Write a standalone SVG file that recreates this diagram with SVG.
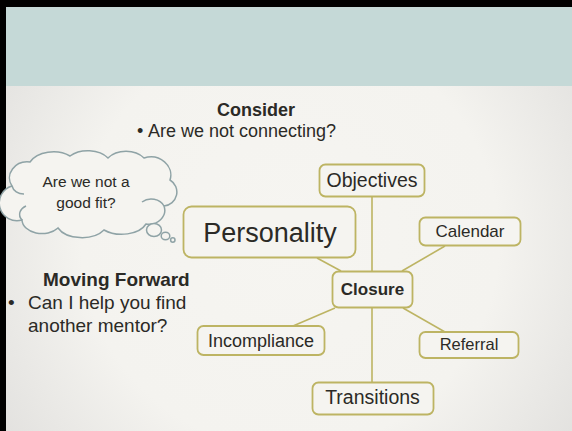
<svg xmlns="http://www.w3.org/2000/svg" width="572" height="431" viewBox="0 0 572 431">
<defs>
<radialGradient id="bg" cx="290" cy="240" r="380" gradientUnits="userSpaceOnUse">
<stop offset="0" stop-color="#f6f5f1"/>
<stop offset="0.55" stop-color="#f4f3ef"/>
<stop offset="1" stop-color="#dedddb"/>
</radialGradient>
<style>
.t{font-family:"Liberation Sans",Arial,sans-serif;fill:#2b2a26}
.b{font-weight:bold}
.node rect{fill:#f5f4f0;stroke:#bdb463;stroke-width:1.8}
.conn line{stroke:#bdb463;stroke-width:1.6}
.cloud{fill:#f5f4f0;stroke:#8fa3a6;stroke-width:1.5}
</style>
</defs>
<rect x="0" y="0" width="572" height="431" fill="#000"/>
<rect x="6" y="7" width="566" height="424" fill="url(#bg)"/>
<rect x="6" y="7" width="566" height="79" fill="#c5d9d7"/>

<g id="consider">
<text class="t b" x="256" y="116" font-size="18" text-anchor="middle">Consider</text>
<text class="t" x="137" y="137" font-size="18">•</text>
<text class="t" x="148" y="137" font-size="18">Are we not connecting?</text>
</g>

<g id="thought">
<path class="cloud" d="M12,186 A18,16 0 0 1 30,162 A26,18 0 0 1 70,156 A24,16 0 0 1 108,158 A22,16 0 0 1 144,158 A20,18 0 0 1 170,180 A14,14 0 0 1 164,206 A16,14 0 0 1 146,224 A26,16 0 0 1 104,230 A26,16 0 0 1 58,228 A20,14 0 0 1 22,220 A14,14 0 0 1 12,186 Z"/>
<path fill="none" stroke="#8fa3a6" stroke-width="1.5" d="M24,194 A12,10 0 0 1 12,186 M22,220 A14,10 0 0 1 26,206 M142,202 A14,12 0 0 1 164,206"/>
<ellipse class="cloud" cx="154" cy="230" rx="7.5" ry="6.5"/>
<ellipse class="cloud" cx="165.5" cy="236" rx="4.3" ry="3.8"/>
<circle class="cloud" cx="172.8" cy="240" r="2.2"/>
<text class="t" x="86" y="187" font-size="15.5" text-anchor="middle">Are we not a</text>
<text class="t" x="86" y="208" font-size="15.5" text-anchor="middle">good fit?</text>
</g>

<g id="moving">
<text class="t b" x="43" y="286" font-size="19">Moving Forward</text>
<text class="t" x="8" y="309" font-size="19">•</text>
<text class="t" x="28" y="309" font-size="19">Can I help you find</text>
<text class="t" x="28" y="332" font-size="19">another mentor?</text>
</g>

<g id="connectors" class="conn">
<line x1="372" y1="197" x2="372" y2="271"/>
<line x1="317" y1="258" x2="341" y2="271"/>
<line x1="445" y1="246" x2="402" y2="271"/>
<line x1="335" y1="308" x2="293" y2="326"/>
<line x1="403" y1="308" x2="445" y2="332"/>
<line x1="372" y1="308" x2="372" y2="382"/>
</g>

<g id="objectives" class="node">
<rect x="319.5" y="164.5" width="105" height="32" rx="6"/>
<text class="t" x="372" y="187" font-size="19.5" text-anchor="middle">Objectives</text>
</g>
<g id="personality" class="node">
<rect x="183.5" y="206.5" width="172" height="51" rx="8"/>
<text class="t" x="270" y="242" font-size="27" text-anchor="middle">Personality</text>
</g>
<g id="calendar" class="node">
<rect x="419.5" y="217.5" width="101" height="28" rx="6"/>
<text class="t" x="470" y="237" font-size="17" text-anchor="middle">Calendar</text>
</g>
<g id="closure" class="node">
<rect x="332.5" y="271.5" width="80" height="36" rx="6"/>
<text class="t b" x="372.5" y="295" font-size="17" text-anchor="middle">Closure</text>
</g>
<g id="incompliance" class="node">
<rect x="197.5" y="326" width="127" height="29" rx="6"/>
<text class="t" x="261" y="347" font-size="18" text-anchor="middle">Incompliance</text>
</g>
<g id="referral" class="node">
<rect x="419.5" y="332" width="99" height="26" rx="6"/>
<text class="t" x="469" y="350" font-size="16.5" text-anchor="middle">Referral</text>
</g>
<g id="transitions" class="node">
<rect x="312.5" y="382.5" width="121" height="32" rx="6"/>
<text class="t" x="372.5" y="404" font-size="19.5" text-anchor="middle">Transitions</text>
</g>
</svg>
